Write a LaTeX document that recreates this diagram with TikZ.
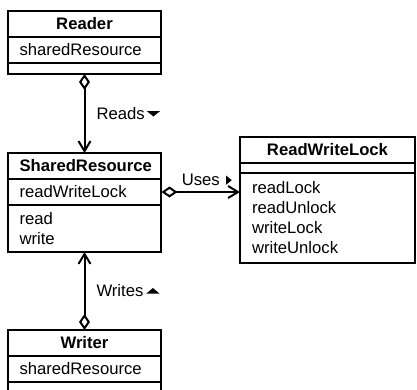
\documentclass[tikz,border=0pt]{standalone}
\usepackage{fontspec}
\setmainfont{Liberation Sans}
\usetikzlibrary{arrows.meta,positioning}

\tikzset{
  caja/.style={draw, line width=1.2pt, outer sep=0pt, inner xsep=7.2pt, inner ysep=0pt,
    text width=78pt, align=left, font=\fontsize{10}{12}\selectfont},
  ancha/.style={text width=90.6pt},
  titulo/.style={caja, align=center, minimum height=15.6pt,
    font=\fontsize{10}{12}\selectfont\bfseries},
  asoc/.style={line width=1.2pt,
    {Diamond[open,length=9.6pt,width=6.6pt]}-{Straight Barb[length=6pt,width=7.2pt]}},
  rol/.style={inner sep=0pt, font=\fontsize{10}{12}\selectfont}
}

\begin{document}
\begin{tikzpicture}[x=0.6pt, y=-0.6pt]
        \useasboundingbox (0,0) rectangle (417,390);

        % Paso 1: Clase Reader con su atributo y compartimento vacio
        \node[titulo] (reader) at (84.5,24) {Reader};
        \node[caja, minimum height=15.6pt, anchor=north] (reader-attr) at (reader.south) {sharedResource};
        \node[caja, minimum height=6.6pt, anchor=north] (reader-ops) at (reader-attr.south) {};

        % Paso 2: Clase SharedResource
        \node[titulo] (shared) at (84.5,166) {SharedResource};
        \node[caja, minimum height=15.6pt, anchor=north] (shared-attr) at (shared.south) {readWriteLock};
        \node[caja, minimum height=28.2pt, anchor=north] (shared-ops) at (shared-attr.south) {read\\write};

        % Paso 3: Clase Writer (queda cortada por abajo)
        \node[titulo] (writer) at (84.5,343) {Writer};
        \node[caja, minimum height=15.6pt, anchor=north] (writer-attr) at (writer.south) {sharedResource};
        \node[caja, minimum height=6.6pt, anchor=north] (writer-ops) at (writer-attr.south) {};

        % Paso 4: Clase ReadWriteLock
        \node[titulo, ancha] (rwl) at (327.5,150) {ReadWriteLock};
        \node[caja, ancha, minimum height=6pt, anchor=north] (rwl-attr) at (rwl.south) {};
        \node[caja, ancha, minimum height=54pt, anchor=north] (rwl-ops) at (rwl-attr.south)
            {readLock\\readUnlock\\writeLock\\writeUnlock};

        % Paso 5: Asociaciones con rombo de agregacion
        \draw[asoc] (reader-ops.south) -- node[rol, right=6.6pt] (reads) {Reads} (shared.north);
        \draw[asoc] (writer.north) -- node[rol, right=6.6pt] (writes) {Writes} (shared-ops.south);
        \draw[asoc] (shared-attr.east) -- node[rol, above=3pt] (uses) {Uses} (shared-attr.east -| rwl-ops.west);

        % Paso 6: Triangulos que indican el sentido de lectura
        \fill ([xshift=0.6pt,yshift=1.5pt]reads.east) -- ++(8.1pt,0) -- ++(-4.05pt,-3.3pt) -- cycle;
        \fill ([xshift=1.2pt,yshift=-1.5pt]writes.east) -- ++(7.8pt,0) -- ++(-3.9pt,3.3pt) -- cycle;
        \fill ([xshift=3.3pt,yshift=2.7pt]uses.east) -- ++(0,-5.4pt) -- ++(3.3pt,2.7pt) -- cycle;
    \end{tikzpicture}
\end{document}
